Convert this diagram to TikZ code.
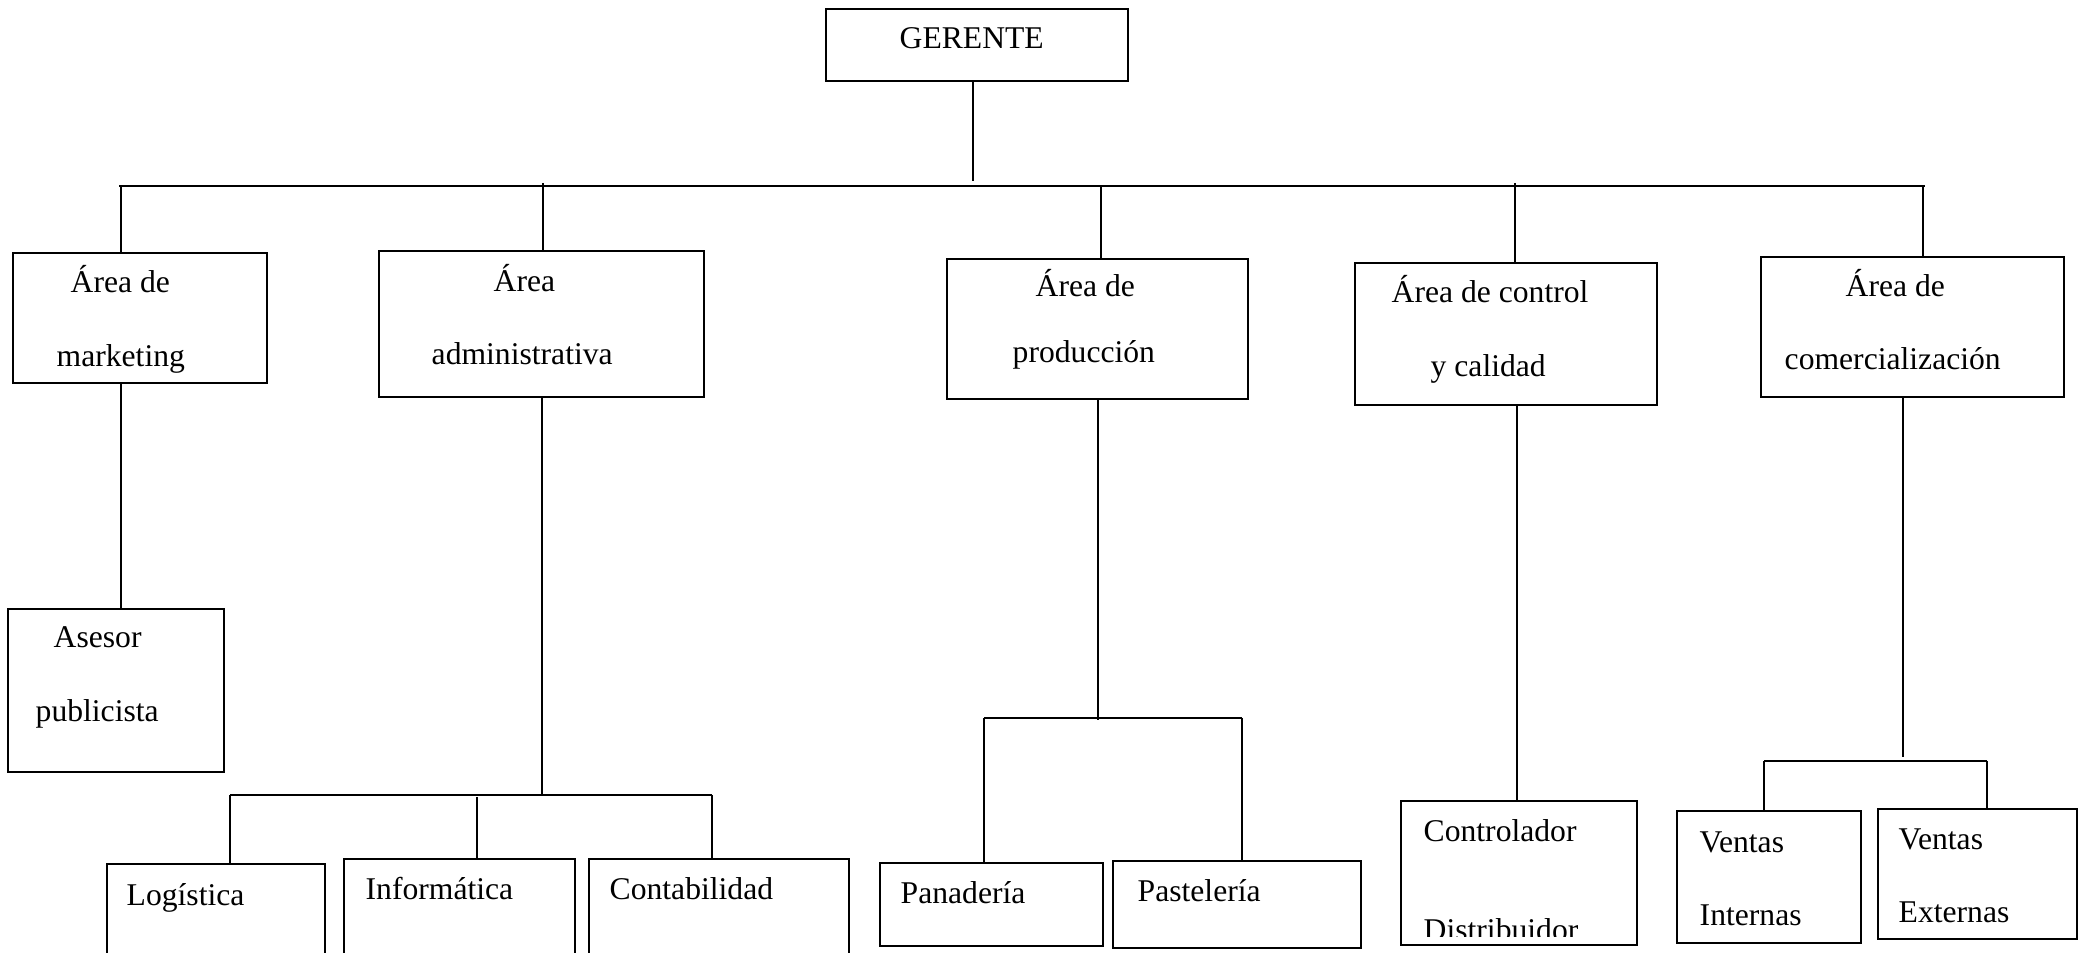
\documentclass[tikz,border=0pt]{standalone}
\usepackage{fontspec}
\setmainfont{Liberation Serif}
\usepackage{tikz}

\begin{document}
\begin{tikzpicture}[
  box/.style={rectangle, draw, line width=0.6pt, inner sep=0pt, outer sep=0pt,
              anchor=north west},
  lbl/.style={anchor=base west, inner sep=0pt, font=\fontsize{9}{11}\selectfont},
  link/.style={draw, line width=0.5pt},
  bus/.style={draw, line width=0.65pt},
]
\useasboundingbox (0,0) rectangle (20.89,-9.53);
\clip (0,0) rectangle (20.89,-9.53);

% top level
\node[box, minimum width=3.02cm, minimum height=0.72cm] (ger) at (8.26,-0.09) {};
\node[lbl] (t-ger) at (8.99,-0.49) {GERENTE};

% areas
\node[box, minimum width=2.54cm, minimum height=1.30cm] (mkt)  at (0.13,-2.53) {};
\node[box, minimum width=3.25cm, minimum height=1.46cm] (adm)  at (3.79,-2.51) {};
\node[box, minimum width=3.01cm, minimum height=1.40cm] (prod) at (9.47,-2.59) {};
\node[box, minimum width=3.02cm, minimum height=1.42cm] (ctrl) at (13.55,-2.63) {};
\node[box, minimum width=3.03cm, minimum height=1.40cm] (com)  at (17.61,-2.57) {};

\node[lbl] (t-mkt1)  at (0.70,-2.93)  {Área de};
\node[lbl] (t-mkt2)  at (0.56,-3.67)  {marketing};
\node[lbl] (t-adm1)  at (4.93,-2.92)  {Área};
\node[lbl] (t-adm2)  at (4.31,-3.65)  {administrativa};
\node[lbl] (t-prod1) at (10.35,-2.97) {Área de};
\node[lbl] (t-prod2) at (10.12,-3.63) {producción};
\node[lbl] (t-ctrl1) at (13.91,-3.03) {Área de control};
\node[lbl] (t-ctrl2) at (14.30,-3.77) {y calidad};
\node[lbl] (t-com1)  at (18.45,-2.97) {Área de};
\node[lbl] (t-com2)  at (17.84,-3.70) {comercialización};

% units
\node[box, minimum width=2.16cm, minimum height=1.63cm] (ase)   at (0.08,-6.09)  {};
\node[box, minimum width=2.18cm, minimum height=1.20cm] (log)   at (1.07,-8.64)  {};
\node[box, minimum width=2.31cm, minimum height=1.20cm] (inf)   at (3.44,-8.59)  {};
\node[box, minimum width=2.60cm, minimum height=1.20cm] (cont)  at (5.89,-8.59)  {};
\node[box, minimum width=2.23cm, minimum height=0.83cm] (pan)   at (8.80,-8.63)  {};
\node[box, minimum width=2.48cm, minimum height=0.87cm] (past)  at (11.13,-8.61) {};
\node[box, minimum width=2.36cm, minimum height=1.44cm] (contr) at (14.01,-8.01) {};
\node[box, minimum width=1.84cm, minimum height=1.32cm] (vint)  at (16.77,-8.11) {};
\node[box, minimum width=1.99cm, minimum height=1.30cm] (vext)  at (18.78,-8.09) {};

\node[lbl] (t-ase1)  at (0.53,-6.48)  {Asesor};
\node[lbl] (t-ase2)  at (0.35,-7.22)  {publicista};
\node[lbl] (t-log)   at (1.26,-9.05)  {Logística};
\node[lbl] (t-inf)   at (3.65,-9.00)  {Informática};
\node[lbl] (t-cont)  at (6.09,-9.00)  {Contabilidad};
\node[lbl] (t-pan)   at (9.00,-9.03)  {Panadería};
\node[lbl] (t-past)  at (11.37,-9.02) {Pastelería};
\node[lbl] (t-contr1) at (14.23,-8.42) {Controlador};
\begin{scope}
  % second line runs out of its box
  \clip (14.01,-8.01) rectangle (16.37,-9.36);
  \node[lbl] (t-contr2) at (14.23,-9.40) {Distribuidor};
\end{scope}
\node[lbl] (t-vint1) at (16.99,-8.52) {Ventas};
\node[lbl] (t-vint2) at (16.99,-9.25) {Internas};
\node[lbl] (t-vext1) at (18.98,-8.49) {Ventas};
\node[lbl] (t-vext2) at (18.98,-9.22) {Externas};

% bus points
\coordinate (bus-l)  at (1.19,-1.86);
\coordinate (bus-r)  at (19.25,-1.86);
\coordinate (bus-g)  at (9.73,-1.81);
\coordinate (j-mkt)  at (1.21,-1.86);
\coordinate (j-adm)  at (5.43,-1.83);
\coordinate (j-prod) at (11.01,-1.86);
\coordinate (j-ctrl) at (15.15,-1.83);
\coordinate (j-com)  at (19.23,-1.86);

\coordinate (sa-m) at (5.42,-7.96);
\coordinate (sa-l) at (2.30,-7.95);
\coordinate (sa-c) at (4.77,-7.97);
\coordinate (sa-r) at (7.12,-7.95);

\coordinate (sp-m) at (10.98,-7.20);
\coordinate (sp-l) at (9.84,-7.18);
\coordinate (sp-r) at (12.42,-7.18);

\coordinate (j-contr) at (15.17,-7.97);

\coordinate (sc-m) at (19.03,-7.57);
\coordinate (sc-l) at (17.64,-7.61);
\coordinate (sc-r) at (19.87,-7.61);

% lines
\draw[link] (bus-g |- ger.south) -- (bus-g);
\draw[bus] (bus-l) -- (bus-r);
\draw[link] (j-mkt)  -- (j-mkt |- mkt.north);
\draw[link] (j-adm)  -- (j-adm |- adm.north);
\draw[link] (j-prod) -- (j-prod |- prod.north);
\draw[link] (j-ctrl) -- (j-ctrl |- ctrl.north);
\draw[link] (j-com)  -- (j-com |- com.north);

\draw[link] (j-mkt |- mkt.south) -- (j-mkt |- ase.north);

\draw[link] (sa-m |- adm.south) -- (sa-m);
\draw[bus] (sa-l) -- (sa-r);
\draw[link] (sa-l) -- (sa-l |- log.north);
\draw[link] (sa-c) -- (sa-c |- inf.north);
\draw[link] (sa-r) -- (sa-r |- cont.north);

\draw[link] (sp-m |- prod.south) -- (sp-m);
\draw[bus] (sp-l) -- (sp-r);
\draw[link] (sp-l) -- (sp-l |- pan.north);
\draw[link] (sp-r) -- (sp-r |- past.north);

\draw[link] (j-contr |- ctrl.south) -- (j-contr |- contr.north);

\draw[link] (sc-m |- com.south) -- (sc-m);
\draw[bus] (sc-l) -- (sc-r);
\draw[link] (sc-l) -- (sc-l |- vint.north);
\draw[link] (sc-r) -- (sc-r |- vext.north);
\end{tikzpicture}
\end{document}
